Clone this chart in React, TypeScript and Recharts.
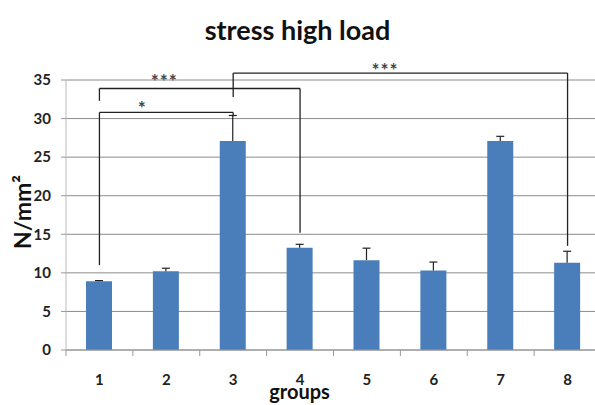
import React from 'react';
import { ComposedChart, Bar, XAxis, YAxis, CartesianGrid, ReferenceLine, ReferenceDot } from 'recharts';

const groups = ['1', '2', '3', '4', '5', '6', '7', '8'];
const groupIndex = [1, 2, 3, 4, 5, 6, 7, 8];
const means = [8.9, 10.2, 27.1, 13.25, 11.65, 10.3, 27.1, 11.3];
const errors = [0.1, 0.4, 3.3, 0.45, 1.55, 1.1, 0.6, 1.5];
const yTicks = [0, 5, 10, 15, 20, 25, 30, 35];
const boundaryTicks = [0.5, 1.5, 2.5, 3.5, 4.5, 5.5, 6.5, 7.5, 8.5];

// significance brackets: group from/to, bracket level, ends of the drop lines
const bracketFrom = [1, 1, 3];
const bracketTo = [3, 4, 8];
const bracketLevel = [30.8, 33.9, 35.9];
const bracketLeftEnd = [11.0, 32.3, 32.8];
const bracketRightEnd = [30.3, 15.2, 13.5];
const bracketStars = ['*', '***', '***'];
const starX = [1.64, 1.97, 5.27];
const starY = [30.4, 34.0, 35.45];

const data = groups.map((g, i) => ({ g, idx: groupIndex[i], mean: means[i], err: errors[i] }));

const ErrShape = (props: any) => {
  const { x, y, width, height } = props;
  const cx = x + width / 2;
  return (
    <g>
      <line x1={cx} x2={cx} y1={y + height} y2={y} stroke="#222" strokeWidth={1.2} />
      <line x1={cx - 4} x2={cx + 4} y1={y} y2={y} stroke="#222" strokeWidth={1.2} />
    </g>
  );
};

const EmptyTick = () => <g />;

const font = 'Lato, "Open Sans", sans-serif';

export default function App() {
  return (
    <div style={{ position: 'absolute', left: 0, top: 0, width: 595, height: 405, overflow: 'hidden', background: '#fff' }}>
      <div
        style={{
          position: 'absolute',
          left: 0,
          width: 595,
          top: 13,
          textAlign: 'center',
          fontFamily: font,
          fontWeight: 700,
          fontSize: 27,
          color: '#111',
        }}
      >
        stress high load
      </div>
      <ComposedChart
        width={610}
        height={405}
        data={data}
        margin={{ top: 80, right: 9, left: 0, bottom: 0 }}
        style={{ position: 'absolute', left: 0, top: 0 }}
      >
        <CartesianGrid vertical={false} stroke="#8c8c8c" strokeWidth={1} xAxisId="cat" />
        <XAxis
          xAxisId={0}
          dataKey="idx"
          type="number"
          domain={[0.5, 8.5]}
          allowDataOverflow={true}
          ticks={boundaryTicks}
          interval={0}
          height={1}
          tick={EmptyTick}
          tickSize={6}
          tickLine={{ stroke: '#999' }}
          axisLine={{ stroke: '#999' }}
        />
        <XAxis
          xAxisId="cat"
          dataKey="g"
          height={54}
          tickLine={false}
          axisLine={false}
          tickMargin={17}
          tick={{ fontSize: 15, fontWeight: 700, fill: '#222', fontFamily: font }}
          label={{
            content: (p: any) => {
              const vb = p.viewBox;
              return (
                <text
                  x={vb.x + vb.width / 2 - 34}
                  y={399}
                  textAnchor="middle"
                  fontFamily={font}
                  fontWeight={700}
                  fontSize={20}
                  fill="#111"
                >
                  groups
                </text>
              );
            },
          }}
        />
        <YAxis
          width={66}
          domain={[0, 35]}
          ticks={yTicks}
          interval={0}
          tickSize={5}
          tickMargin={10}
          tickLine={{ stroke: '#999' }}
          axisLine={{ stroke: '#bbb' }}
          tick={{ fontSize: 15, fontWeight: 700, fill: '#222', fontFamily: font }}
          label={{
            content: (p: any) => {
              const vb = p.viewBox;
              const cy = vb.y + vb.height / 2 - 3;
              return (
                <text
                  x={22}
                  y={cy}
                  transform={`rotate(-90 22 ${cy})`}
                  textAnchor="middle"
                  dominantBaseline="central"
                  fontFamily={font}
                  fontWeight={700}
                  fontSize={23}
                  fill="#111"
                >
                  N/mm²
                </text>
              );
            },
          }}
        />
        <Bar xAxisId="cat" dataKey="mean" stackId="s" fill="#4a7ebb" barSize={26} isAnimationActive={false} />
        <Bar xAxisId="cat" dataKey="err" stackId="s" fill="none" barSize={26} shape={ErrShape} isAnimationActive={false} />
        {bracketFrom.map((f, i) => (
          <ReferenceLine
            key={`h${i}`}
            xAxisId={0}
            ifOverflow="visible"
            stroke="#222"
            strokeWidth={1.3}
            segment={[
              { x: f, y: bracketLevel[i] },
              { x: bracketTo[i], y: bracketLevel[i] },
            ]}
          />
        ))}
        {bracketFrom.map((f, i) => (
          <ReferenceLine
            key={`l${i}`}
            xAxisId={0}
            ifOverflow="visible"
            stroke="#222"
            strokeWidth={1.3}
            segment={[
              { x: f, y: bracketLevel[i] },
              { x: f, y: bracketLeftEnd[i] },
            ]}
          />
        ))}
        {bracketTo.map((t, i) => (
          <ReferenceLine
            key={`r${i}`}
            xAxisId={0}
            ifOverflow="visible"
            stroke="#222"
            strokeWidth={1.3}
            segment={[
              { x: t, y: bracketLevel[i] },
              { x: t, y: bracketRightEnd[i] },
            ]}
          />
        ))}
        {bracketStars.map((s, i) => (
          <ReferenceDot
            key={`s${i}`}
            xAxisId={0}
            x={starX[i]}
            y={starY[i]}
            r={0}
            ifOverflow="visible"
            label={{
              content: (p: any) => {
                const vb = p.viewBox;
                return (
                  <text
                    x={vb.x + (vb.width || 0) / 2}
                    y={vb.y + (vb.height || 0) / 2}
                    textAnchor="middle"
                    fontFamily={font}
                    fontWeight={700}
                    fontSize={19}
                    letterSpacing={1}
                    fill="#444"
                  >
                    {s}
                  </text>
                );
              },
            }}
          />
        ))}
      </ComposedChart>
    </div>
  );
}
